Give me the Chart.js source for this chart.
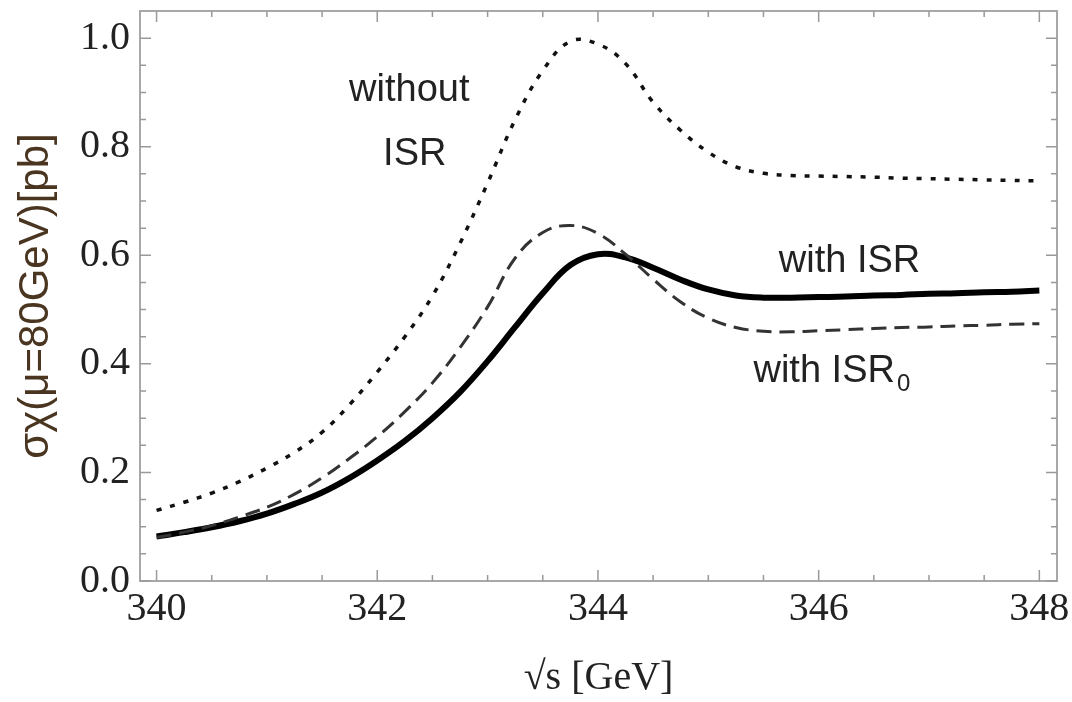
<!DOCTYPE html>
<html>
<head>
<meta charset="utf-8">
<script src="https://cdn.jsdelivr.net/npm/chart.js@4/dist/chart.umd.min.js"></script>
<style>
    html, body { margin: 0; padding: 0; background: #fff; }
    #wrap { width: 1072px; height: 702px; }
</style>
</head>
<body>
<div id="wrap"><canvas id="isrChart"></canvas></div>
<script>
// sqrt(s) in GeV
const energies = [
    340, 340.25, 340.5, 340.75, 341, 341.25, 341.5, 341.75,
    342, 342.25, 342.5, 342.75, 343, 343.25, 343.5, 343.75,
    344, 344.25, 344.5, 344.75, 345, 345.25, 345.5, 345.75,
    346, 346.25, 346.5, 346.75, 347, 347.25, 347.5, 347.75, 348
]

// cross sections [pb]
const withoutIsr = [
    0.130, 0.145, 0.162, 0.183, 0.208, 0.237, 0.274, 0.325,
    0.385, 0.450, 0.525, 0.622, 0.733, 0.850, 0.940, 0.994,
    0.989, 0.953, 0.882, 0.830, 0.790, 0.763, 0.751, 0.747,
    0.746, 0.745, 0.744, 0.742, 0.741, 0.740, 0.739, 0.738, 0.737
]
const withIsr = [
    0.082, 0.090, 0.099, 0.110, 0.124, 0.142, 0.163, 0.190,
    0.222, 0.258, 0.300, 0.348, 0.405, 0.468, 0.530, 0.582,
    0.602, 0.596, 0.577, 0.555, 0.537, 0.526, 0.522, 0.522,
    0.523, 0.524, 0.526, 0.527, 0.529, 0.530, 0.532, 0.533, 0.535
]
const withIsr0 = [
    0.080, 0.090, 0.102, 0.118, 0.136, 0.160, 0.190, 0.226,
    0.266, 0.312, 0.365, 0.430, 0.505, 0.595, 0.642, 0.655,
    0.640, 0.602, 0.556, 0.514, 0.484, 0.467, 0.460, 0.459,
    0.461, 0.463, 0.465, 0.467, 0.468, 0.470, 0.471, 0.473, 0.474
]

const xTicks = [340, 342, 344, 346, 348]
const yTicks = [0.0, 0.2, 0.4, 0.6, 0.8, 1.0]

// curve labels, in data coordinates
const curveLabels = [
    { text: 'without', x: 342.29, y: 0.904 },
    { text: 'ISR', x: 342.34, y: 0.785 },
    { text: 'with ISR', x: 346.28, y: 0.588 },
    { text: 'with ISR', sub: '0', x: 346.12, y: 0.385 }
]

const toPoints = values => values.map((v, i) => ({ x: energies[i], y: v }))

// Mathematica-style frame with inward ticks on all four sides
const frameTicks = {
    id: 'frameTicks',
    afterDraw(chart) {
        const { ctx, chartArea: a, scales: { x, y } } = chart
        ctx.save()
        ctx.strokeStyle = '#a8a8a8'
        ctx.lineWidth = 2
        ctx.strokeRect(a.left, a.top, a.right - a.left, a.bottom - a.top)

        ctx.lineWidth = 1.5
        ctx.strokeStyle = '#999'
        for (let v = 340; v <= 348.001; v += 0.5) {
            const px = x.getPixelForValue(v)
            const len = Math.abs(v % 2) < 0.01 ? 11 : 6
            ctx.beginPath()
            ctx.moveTo(px, a.bottom); ctx.lineTo(px, a.bottom - len)
            ctx.moveTo(px, a.top); ctx.lineTo(px, a.top + len)
            ctx.stroke()
        }
        for (let k = 0; k <= 20; k++) {
            const py = y.getPixelForValue(k * 0.05)
            const len = k % 4 === 0 ? 11 : 6
            ctx.beginPath()
            ctx.moveTo(a.left, py); ctx.lineTo(a.left + len, py)
            ctx.moveTo(a.right, py); ctx.lineTo(a.right - len, py)
            ctx.stroke()
        }

        ctx.fillStyle = '#222'
        ctx.textBaseline = 'middle'
        ctx.textAlign = 'left'
        curveLabels.forEach(lbl => {
            const px = x.getPixelForValue(lbl.x)
            const py = y.getPixelForValue(lbl.y)
            ctx.font = '38px "Liberation Sans", Arial, sans-serif'
            const w = ctx.measureText(lbl.text).width
            let subW = 0
            if (lbl.sub) {
                ctx.font = '24px "Liberation Sans", Arial, sans-serif'
                subW = ctx.measureText(lbl.sub).width + 2
            }
            const startX = px - (w + subW) / 2
            ctx.font = '38px "Liberation Sans", Arial, sans-serif'
            ctx.fillText(lbl.text, startX, py)
            if (lbl.sub) {
                ctx.font = '24px "Liberation Sans", Arial, sans-serif'
                ctx.fillText(lbl.sub, startX + w + 2, py + 12)
            }
        })
        ctx.restore()
    }
}

const ctx = document.getElementById('isrChart').getContext('2d')
new Chart(ctx, {
    type: 'line',
    data: {
        datasets: [
            {
                label: 'without ISR',
                data: toPoints(withoutIsr),
                borderColor: '#111',
                borderWidth: 3.5,
                borderDash: [5, 9],
                pointRadius: 0,
                tension: 0.4
            },
            {
                label: 'with ISR0',
                data: toPoints(withIsr0),
                borderColor: '#333',
                borderWidth: 3,
                borderDash: [15, 8],
                pointRadius: 0,
                tension: 0.4
            },
            {
                label: 'with ISR',
                data: toPoints(withIsr),
                borderColor: '#000',
                borderWidth: 6,
                pointRadius: 0,
                tension: 0.4
            }
        ]
    },
    options: {
        responsive: true,
        maintainAspectRatio: false,
        animation: false,
        layout: { padding: { top: 11, right: 15, left: 0, bottom: 0 } },
        plugins: {
            legend: { display: false },
            tooltip: { enabled: false }
        },
        scales: {
            x: {
                type: 'linear',
                min: 339.85,
                max: 348.16,
                afterFit: scale => {
                    scale.height = 121
                    scale.paddingLeft = 0
                    scale.paddingRight = 0
                },
                afterBuildTicks: scale => { scale.ticks = xTicks.map(v => ({ value: v })) },
                grid: { display: false },
                border: { display: false },
                ticks: {
                    padding: -4,
                    color: '#222',
                    maxRotation: 0,
                    font: { family: '"Liberation Serif", "Times New Roman", serif', size: 40 },
                    callback: v => String(v)
                },
                title: {
                    display: true,
                    text: '√s [GeV]',
                    color: '#222',
                    padding: { top: 0, bottom: 0 },
                    font: { family: '"Liberation Serif", "Times New Roman", serif', size: 40 }
                }
            },
            y: {
                min: 0,
                max: 1.05,
                afterFit: scale => {
                    scale.width = 140
                    scale.paddingTop = 0
                    scale.paddingBottom = 0
                },
                afterBuildTicks: scale => { scale.ticks = yTicks.map(v => ({ value: v })) },
                grid: { display: false },
                border: { display: false },
                ticks: {
                    padding: 2,
                    color: '#222',
                    font: { family: '"Liberation Serif", "Times New Roman", serif', size: 40 },
                    callback: v => v.toFixed(1)
                },
                title: {
                    display: true,
                    text: 'σχ(μ=80GeV)[pb]',
                    color: '#4a3520',
                    padding: { top: 11, bottom: 0 },
                    font: { family: '"Liberation Sans", Arial, sans-serif', size: 42 }
                }
            }
        }
    },
    plugins: [frameTicks]
})
</script>
</body>
</html>
